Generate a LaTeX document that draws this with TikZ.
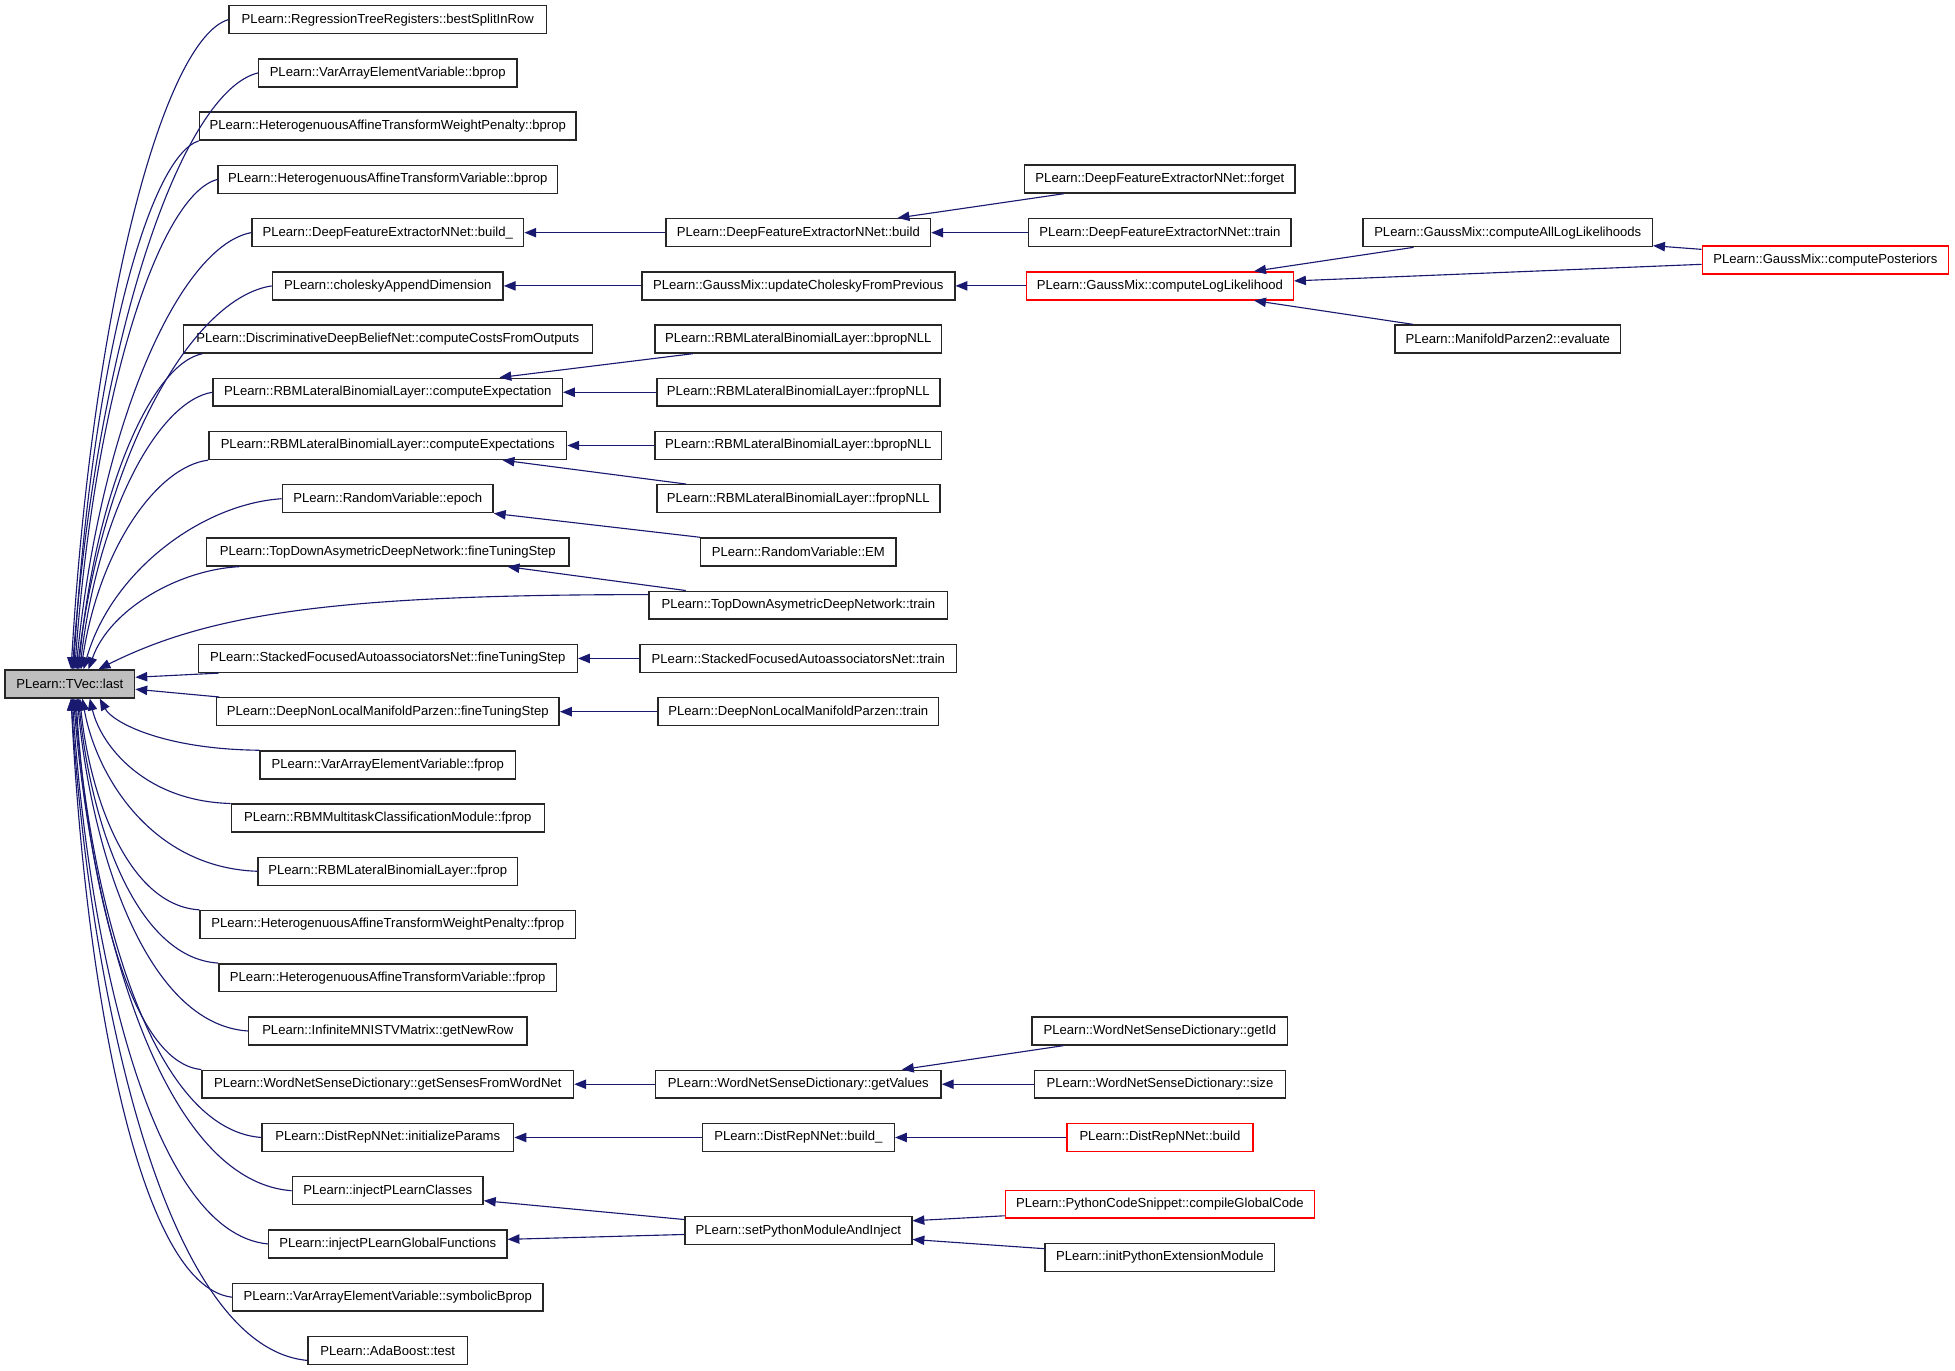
\documentclass[tikz,border=0pt]{standalone}
\usepackage{fontspec}
\setmainfont{Liberation Sans}
\usetikzlibrary{arrows.meta}
\definecolor{edgeblue}{HTML}{191970}
\definecolor{rootgrey}{HTML}{BFBFBF}
\definecolor{truncred}{HTML}{FF0000}
\definecolor{boxline}{HTML}{262626}
\begin{document}
\begin{tikzpicture}[x=1pt,y=-1pt,
  fn/.style={draw=boxline, line width=1.15pt, fill=white, minimum height=22.4pt, inner sep=0pt, font=\fontsize{10.5}{12.5}\selectfont},
  truncnode/.style={fn, draw=truncred},
  rootnode/.style={fn, fill=rootgrey},
  callarrow/.style={draw=edgeblue, line width=0.9pt, -{Triangle[length=9.5pt,width=7.5pt]}},
]
\useasboundingbox (0,0) rectangle (1568,1099.6);

% root
\node[rootnode, minimum width=104pt] (tvec) at (56,548.5) {PLearn::TVec::last};

% column 1
\node[fn, minimum width=255pt] (r0) at (311,15.8) {PLearn::RegressionTreeRegisters::bestSplitInRow};
\node[fn, minimum width=207pt] (r1) at (311,58.5) {PLearn::VarArrayElementVariable::bprop};
\node[fn, minimum width=302pt] (r2) at (311,101.2) {PLearn::HeterogenuousAffineTransformWeightPenalty::bprop};
\node[fn, minimum width=272pt] (r3) at (311,143.9) {PLearn::HeterogenuousAffineTransformVariable::bprop};
\node[fn, minimum width=218pt] (r4) at (311,186.6) {PLearn::DeepFeatureExtractorNNet::build\_};
\node[fn, minimum width=185pt] (r5) at (311,229.3) {PLearn::choleskyAppendDimension};
\node[fn, minimum width=328pt] (r6) at (311,271.9) {PLearn::DiscriminativeDeepBeliefNet::computeCostsFromOutputs};
\node[fn, minimum width=280pt] (r7) at (311,314.6) {PLearn::RBMLateralBinomialLayer::computeExpectation};
\node[fn, minimum width=287pt] (r8) at (311,357.3) {PLearn::RBMLateralBinomialLayer::computeExpectations};
\node[fn, minimum width=169pt] (r9) at (311,400.0) {PLearn::RandomVariable::epoch};
\node[fn, minimum width=291pt] (r10) at (311,442.7) {PLearn::TopDownAsymetricDeepNetwork::fineTuningStep};
\node[fn, minimum width=304pt] (r12) at (311,528.1) {PLearn::StackedFocusedAutoassociatorsNet::fineTuningStep};
\node[fn, minimum width=275pt] (r13) at (311,570.8) {PLearn::DeepNonLocalManifoldParzen::fineTuningStep};
\node[fn, minimum width=205pt] (r14) at (311,613.5) {PLearn::VarArrayElementVariable::fprop};
\node[fn, minimum width=251pt] (r15) at (311,656.2) {PLearn::RBMMultitaskClassificationModule::fprop};
\node[fn, minimum width=208pt] (r16) at (311,698.8) {PLearn::RBMLateralBinomialLayer::fprop};
\node[fn, minimum width=301pt] (r17) at (311,741.5) {PLearn::HeterogenuousAffineTransformWeightPenalty::fprop};
\node[fn, minimum width=271pt] (r18) at (311,784.2) {PLearn::HeterogenuousAffineTransformVariable::fprop};
\node[fn, minimum width=223pt] (r19) at (311,826.9) {PLearn::InfiniteMNISTVMatrix::getNewRow};
\node[fn, minimum width=298pt] (r20) at (311,869.6) {PLearn::WordNetSenseDictionary::getSensesFromWordNet};
\node[fn, minimum width=202pt] (r21) at (311,912.3) {PLearn::DistRepNNet::initializeParams};
\node[fn, minimum width=153pt] (r22) at (311,955.0) {PLearn::injectPLearnClasses};
\node[fn, minimum width=191pt] (r23) at (311,997.7) {PLearn::injectPLearnGlobalFunctions};
\node[fn, minimum width=249pt] (r24) at (311,1040.4) {PLearn::VarArrayElementVariable::symbolicBprop};
\node[fn, minimum width=128pt] (r25) at (311,1083.1) {PLearn::AdaBoost::test};

% column 2
\node[fn, minimum width=212pt] (dfebuild) at (640.3,186.6) {PLearn::DeepFeatureExtractorNNet::build};
\node[fn, minimum width=251pt] (ucfp) at (640.3,229.3) {PLearn::GaussMix::updateCholeskyFromPrevious};
\node[fn, minimum width=230pt] (bnlla) at (640.3,271.9) {PLearn::RBMLateralBinomialLayer::bpropNLL};
\node[fn, minimum width=227pt] (fnlla) at (640.3,314.6) {PLearn::RBMLateralBinomialLayer::fpropNLL};
\node[fn, minimum width=230pt] (bnllb) at (640.3,357.3) {PLearn::RBMLateralBinomialLayer::bpropNLL};
\node[fn, minimum width=227pt] (fnllb) at (640.3,400.0) {PLearn::RBMLateralBinomialLayer::fpropNLL};
\node[fn, minimum width=156.5pt] (em) at (640.3,442.7) {PLearn::RandomVariable::EM};
\node[fn, minimum width=239.5pt] (tdtrain) at (640.3,485.4) {PLearn::TopDownAsymetricDeepNetwork::train};
\node[fn, minimum width=254pt] (sftrain) at (640.3,528.1) {PLearn::StackedFocusedAutoassociatorsNet::train};
\node[fn, minimum width=225pt] (dnltrain) at (640.3,570.8) {PLearn::DeepNonLocalManifoldParzen::train};
\node[fn, minimum width=229pt] (getvalues) at (640.3,869.6) {PLearn::WordNetSenseDictionary::getValues};
\node[fn, minimum width=154pt] (drbuildu) at (640.3,912.3) {PLearn::DistRepNNet::build\_};
\node[fn, minimum width=182pt] (setpy) at (640.3,987.1) {PLearn::setPythonModuleAndInject};

% column 3
\node[fn, minimum width=217pt] (forget) at (930.3,143.6) {PLearn::DeepFeatureExtractorNNet::forget};
\node[fn, minimum width=210.5pt] (dfetrain) at (930.3,186.6) {PLearn::DeepFeatureExtractorNNet::train};
\node[truncnode, minimum width=214pt] (cll) at (930.3,229.3) {PLearn::GaussMix::computeLogLikelihood};
\node[fn, minimum width=205pt] (getid) at (930.3,826.9) {PLearn::WordNetSenseDictionary::getId};
\node[fn, minimum width=201pt] (wsize) at (930.3,869.6) {PLearn::WordNetSenseDictionary::size};
\node[truncnode, minimum width=149pt] (drbuild) at (930.3,912.3) {PLearn::DistRepNNet::build};
\node[truncnode, minimum width=248pt] (cgc) at (930.3,965.8) {PLearn::PythonCodeSnippet::compileGlobalCode};
\node[fn, minimum width=184pt] (initpy) at (930.3,1008.5) {PLearn::initPythonExtensionModule};

% column 4 and 5
\node[fn, minimum width=232pt] (allll) at (1209.3,186.6) {PLearn::GaussMix::computeAllLogLikelihoods};
\node[fn, minimum width=181pt] (mptwo) at (1209.3,271.9) {PLearn::ManifoldParzen2::evaluate};
\node[truncnode, minimum width=197.4pt] (post) at (1464,208.5) {PLearn::GaussMix::computePosteriors};

% straight edges
\draw[callarrow] (dfebuild) -- (r4);
\draw[callarrow] ([xshift=32pt]forget.south west) -- ([xshift=-27pt]dfebuild.north east);
\draw[callarrow] (dfetrain) -- (dfebuild);
\draw[callarrow] (ucfp) -- (r5);
\draw[callarrow] (cll) -- (ucfp);
\draw[callarrow] ([xshift=41pt]allll.south west) -- ([xshift=-32pt]cll.north east);
\draw[callarrow] ([yshift=-3.5pt]post.west) -- ([yshift=4pt]cll.east);
\draw[callarrow] ([yshift=8.5pt]post.west) -- ([yshift=1.3pt]allll.south east);
\draw[callarrow] ([xshift=15pt]mptwo.north west) -- ([xshift=-32pt]cll.south east);
\draw[callarrow] ([xshift=31pt]bnlla.south west) -- ([xshift=-51pt]r7.north east);
\draw[callarrow] (fnlla) -- (r7);
\draw[callarrow] (bnllb) -- (r8);
\draw[callarrow] ([xshift=24pt]fnllb.north west) -- ([xshift=-52pt]r8.south east);
\draw[callarrow] (em.north west) -- (r9.south east);
\draw[callarrow] ([xshift=30pt]tdtrain.north west) -- ([xshift=-50pt]r10.south east);
\draw[callarrow] (sftrain) -- (r12);
\draw[callarrow] (dnltrain) -- (r13);
\draw[callarrow] (getvalues) -- (r20);
\draw[callarrow] ([xshift=25.6pt]getid.south west) -- ([xshift=-32pt]getvalues.north east);
\draw[callarrow] (wsize) -- (getvalues);
\draw[callarrow] (drbuildu) -- (r21);
\draw[callarrow] (drbuild) -- (drbuildu);
\draw[callarrow] ([yshift=9pt]setpy.west) -- ([yshift=-8pt]r22.east);
\draw[callarrow] ([yshift=-3pt]setpy.west) -- ([yshift=3.7pt]r23.east);
\draw[callarrow] ([yshift=-9.3pt]cgc.west) -- ([yshift=8pt]setpy.east);
\draw[callarrow] ([yshift=7pt]initpy.west) -- ([yshift=-7pt]setpy.east);

% edges into the root, from above
\draw[callarrow] (r0.west) .. controls +(-50.6,15.7) and +(17.7,-297.7) .. ([xshift=1pt]tvec.north);
\draw[callarrow] (r1.west) .. controls +(-59.8,14.4) and +(20.9,-273.3) .. ([xshift=2pt]tvec.north);
\draw[callarrow] (r2.south west) .. controls +(-40.4,12.8) and +(14.1,-242.7) .. ([xshift=3pt]tvec.north);
\draw[callarrow] (r3.west) .. controls +(-46,11.8) and +(16.1,-224.6) .. ([xshift=4pt]tvec.north);
\draw[callarrow] (r4.west) .. controls +(-56.4,10.5) and +(19.7,-200.3) .. ([xshift=5pt]tvec.north);
\draw[callarrow] (r5.west) .. controls +(-62.6,9.3) and +(21.9,-176) .. ([xshift=6pt]tvec.north);
\draw[callarrow] ([xshift=16pt]r6.south west) .. controls +(-40,7.7) and +(14,-145.4) .. ([xshift=7pt]tvec.north);
\draw[callarrow] (r7.west) .. controls +(-42.8,6.7) and +(15,-127.3) .. ([xshift=8pt]tvec.north);
\draw[callarrow] (r8.south west) .. controls +(-41,5.1) and +(14.4,-96.7) .. ([xshift=9pt]tvec.north);
\draw[callarrow] (r9.west) .. controls +(-63.8,4.1) and +(22.3,-78.7) .. ([xshift=11pt]tvec.north);
\draw[callarrow] ([xshift=27pt]r10.south west) .. controls +(-48.6,2.5) and +(17,-48.1) .. ([xshift=15pt]tvec.north);
\draw[callarrow] ([yshift=8.5pt]tdtrain.west) .. controls +(-250,0) and +(90,-45) .. ([xshift=23pt]tvec.north);

% edges into the root, from the side
\draw[callarrow] ([xshift=17pt]r12.south west) -- ([yshift=5.3pt]tvec.east);
\draw[callarrow] ([xshift=3pt]r13.north west) -- ([yshift=-4.3pt]tvec.east);

% edges into the root, from below
\draw[callarrow] (r14.north west) .. controls +(-77.1,-0.8) and +(10.3,19.1) .. ([xshift=24pt]tvec.south);
\draw[callarrow] (r15.north west) .. controls +(-68.1,-1.7) and +(9.1,38.3) .. ([xshift=16pt]tvec.south);
\draw[callarrow] (r16.west) .. controls +(-84.6,-2.8) and +(11.3,62.5) .. ([xshift=10pt]tvec.south);
\draw[callarrow] (r17.north west) .. controls +(-57.9,-3.4) and +(7.7,76.7) .. ([xshift=8pt]tvec.south);
\draw[callarrow] (r18.north west) .. controls +(-67.5,-4.3) and +(9,95.9) .. ([xshift=7pt]tvec.south);
\draw[callarrow] (r19.west) .. controls +(-82.5,-5.3) and +(11,120.1) .. ([xshift=6pt]tvec.south);
\draw[callarrow] (r20.north west) .. controls +(-60.6,-6) and +(8.1,134.3) .. ([xshift=5pt]tvec.south);
\draw[callarrow] (r21.west) .. controls +(-90,-7) and +(12,158.5) .. ([xshift=4pt]tvec.south);
\draw[callarrow] (r22.west) .. controls +(-105.3,-7.9) and +(14,177.8) .. ([xshift=3pt]tvec.south);
\draw[callarrow] (r23.west) .. controls +(-94.5,-8.8) and +(12.6,197) .. ([xshift=2pt]tvec.south);
\draw[callarrow] (r24.west) .. controls +(-77.7,-9.6) and +(10.4,216.2) .. ([xshift=1pt]tvec.south);
\draw[callarrow] ([yshift=-8pt]r25.west) .. controls +(-114,-10.6) and +(15.2,239) .. ([xshift=1pt]tvec.south);
\end{tikzpicture}
\end{document}
